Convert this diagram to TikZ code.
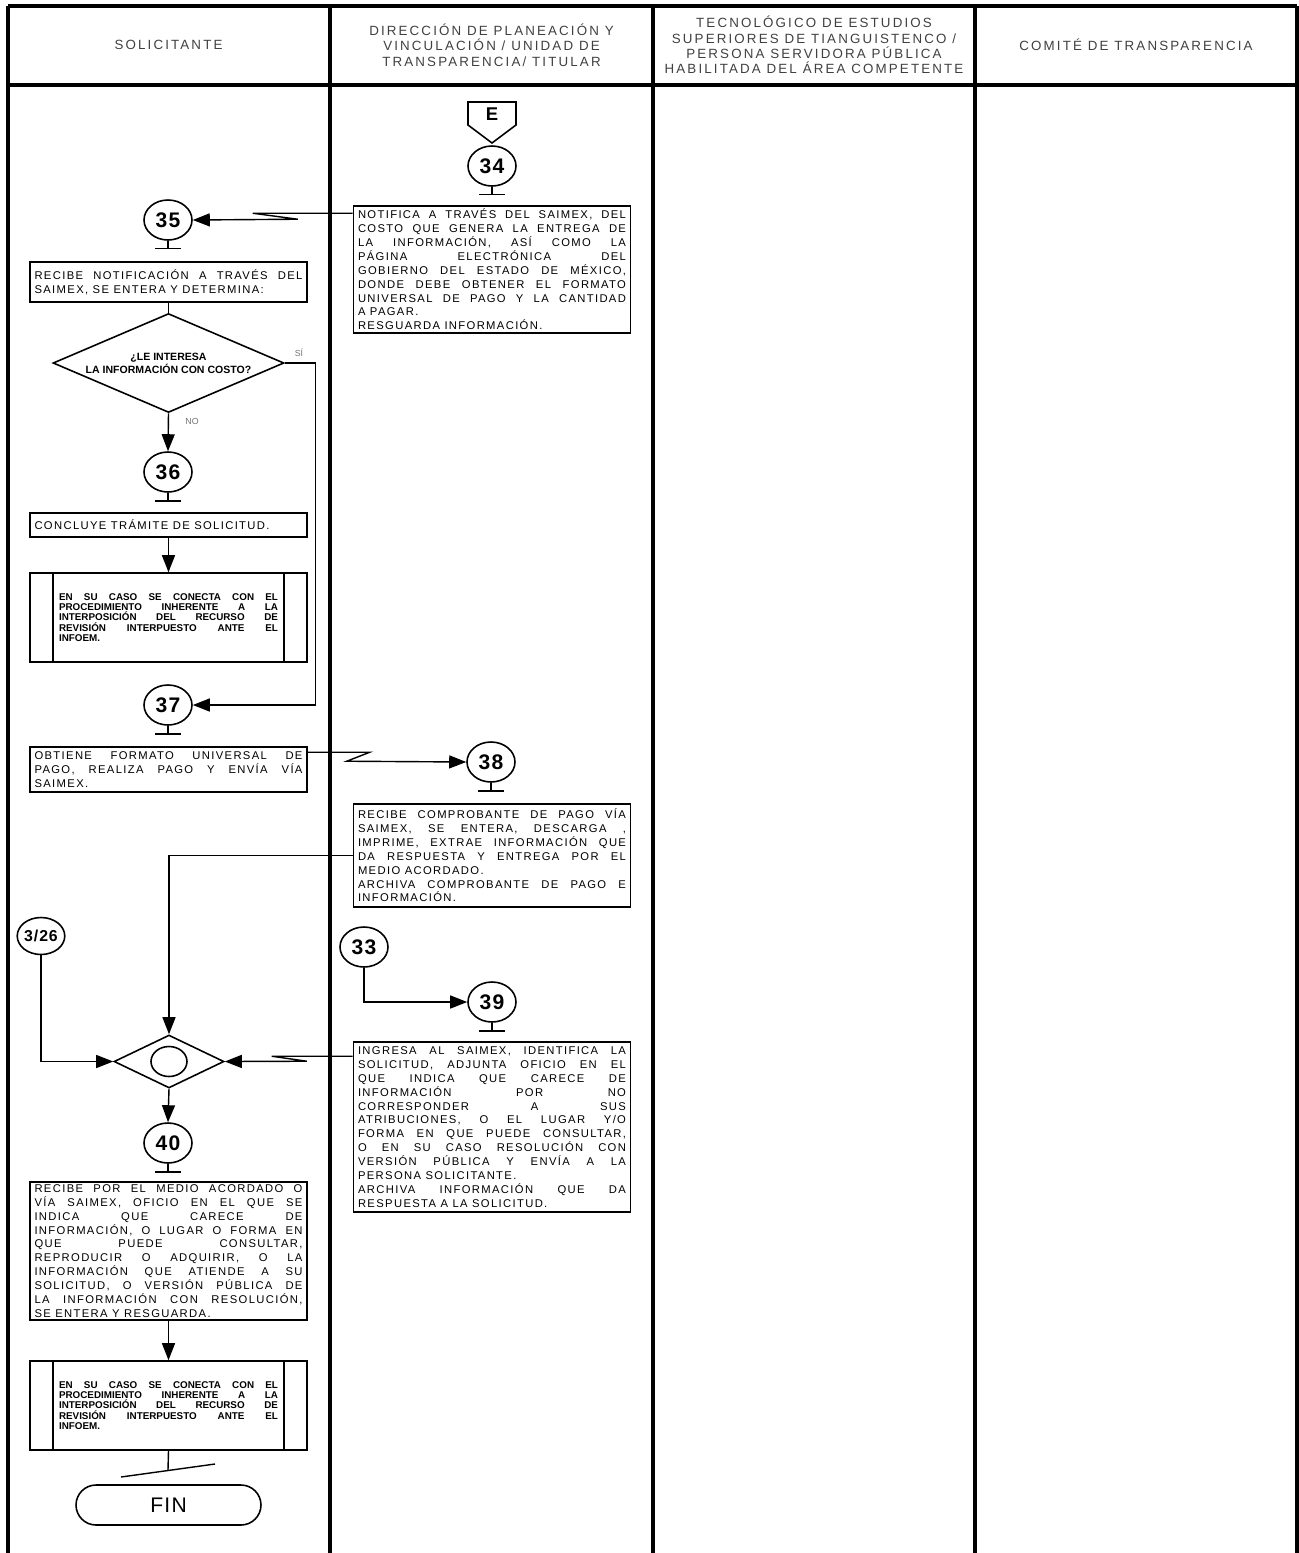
\documentclass[tikz,border=0pt]{standalone}
\usepackage{fontspec}
\setmainfont{Liberation Sans}
\newfontfamily\encabezado[LetterSpace=16]{Liberation Sans}
\newfontfamily\texto[LetterSpace=12]{Liberation Sans}
\newfontfamily\numero[LetterSpace=6]{Liberation Sans}
\usetikzlibrary{shapes.geometric,arrows.meta}

\begin{document}
\begin{tikzpicture}[x=0.02cm,y=-0.02cm,
  marco/.style={line width=1.8pt},
  linea/.style={line width=0.8pt},
  flecha/.style={line width=0.8pt,-{Triangle[length=0.34cm,width=0.26cm]}},
  cabecera/.style={align=center,text=black!75,font=\encabezado\fontsize{7.6}{8.7}\selectfont},
  caja/.style={draw,line width=0.9pt,text width=5.36cm,inner xsep=0.09cm,inner ysep=0pt,align=justify,font=\texto\fontsize{6.4}{7.9}\selectfont},
  predef/.style={draw,line width=0.9pt,minimum width=5.54cm,minimum height=1.78cm,text width=4.38cm,align=justify,font=\bfseries\fontsize{5.6}{5.8}\selectfont},
  paso/.style={ellipse,draw,line width=0.9pt,minimum width=0.96cm,minimum height=0.8cm,inner sep=0pt,font=\numero\bfseries\fontsize{12}{12}\selectfont},
  etiqueta/.style={text=black!55,font=\fontsize{5}{5}\selectfont}
]
\useasboundingbox (0,0) rectangle (1299,1553);

% Marco y carriles
\draw[marco] (8,6) -- (1297,6);
\draw[marco] (8,85) -- (1297,85);
\foreach \x in {8,330,653,975,1297} {
    \draw[marco] (\x,6) -- (\x,1553);
}

% Encabezados
\node[cabecera] (hSol) at (168.5,45) {SOLICITANTE};
\node[cabecera] (hDir) at (491.5,45) {DIRECCIÓN DE PLANEACIÓN Y\\VINCULACIÓN / UNIDAD DE\\TRANSPARENCIA/ TITULAR};
\node[cabecera] (hTec) at (814,45) {TECNOLÓGICO DE ESTUDIOS\\SUPERIORES DE TIANGUISTENCO /\\PERSONA SERVIDORA PÚBLICA\\HABILITADA DEL ÁREA COMPETENTE};
\node[cabecera] (hCom) at (1136,45) {COMITÉ DE TRANSPARENCIA};

% Conector E y paso 34
\draw[line width=0.9pt] (468,102) -- (516,102) -- (516,125) -- (492,143) -- (468,125) -- cycle;
\node[font=\bfseries\fontsize{10.5}{10.5}\selectfont] (conE) at (492,114) {E};
\node[paso] (p34) at (492,166) {34};
\node[caja,minimum height=2.54cm] (b34) at (492,269.5) {NOTIFICA A TRAVÉS DEL SAIMEX, DEL\linebreak COSTO QUE GENERA LA ENTREGA DE\linebreak LA INFORMACIÓN, ASÍ COMO LA\linebreak PÁGINA ELECTRÓNICA DEL\linebreak GOBIERNO DEL ESTADO DE MÉXICO,\linebreak DONDE DEBE OBTENER EL FORMATO\linebreak UNIVERSAL DE PAGO Y LA CANTIDAD\linebreak A PAGAR.\\RESGUARDA INFORMACIÓN.};

% Paso 35
\node[paso] (p35) at (168,220) {35};
\node[caja,minimum height=0.8cm] (b35) at (168.5,282) {RECIBE NOTIFICACIÓN A TRAVÉS DEL\linebreak SAIMEX, SE ENTERA Y DETERMINA:};
\node[diamond,aspect=2.33,draw,line width=0.9pt,minimum width=4.62cm,minimum height=1.98cm,inner sep=0pt,align=center,font=\bfseries\fontsize{6}{6.2}\selectfont] (d35) at (168.5,363) {¿LE INTERESA\\LA INFORMACIÓN CON COSTO?};
\node[etiqueta] (si) at (299,353) {SÍ};
\node[etiqueta] (no) at (192,421) {NO};

% Paso 36
\node[paso] (p36) at (168,472) {36};
\node[caja,minimum height=0.48cm] (b36) at (168.5,525) {CONCLUYE TRÁMITE DE SOLICITUD.};
\node[predef] (pp36) at (168.5,617.5) {EN SU CASO SE CONECTA CON EL\linebreak PROCEDIMIENTO INHERENTE A LA\linebreak INTERPOSICIÓN DEL RECURSO DE\linebreak REVISIÓN INTERPUESTO ANTE EL\linebreak INFOEM.};

% Paso 37
\node[paso] (p37) at (168,705) {37};
\node[caja,minimum height=0.9cm] (b37) at (168.5,769.5) {OBTIENE FORMATO UNIVERSAL DE\linebreak PAGO, REALIZA PAGO Y ENVÍA VÍA\linebreak SAIMEX.};

% Paso 38
\node[paso] (p38) at (491,762) {38};
\node[caja,minimum height=2.06cm] (b38) at (492,855.5) {RECIBE COMPROBANTE DE PAGO VÍA\linebreak SAIMEX, SE ENTERA, DESCARGA ,\linebreak IMPRIME, EXTRAE INFORMACIÓN QUE\linebreak DA RESPUESTA Y ENTREGA POR EL\linebreak MEDIO ACORDADO.\\ARCHIVA COMPROBANTE DE PAGO E\linebreak INFORMACIÓN.};

% Conectores 3/26 y 33, paso 39
\node[paso,minimum width=0.9cm,minimum height=0.74cm,font=\numero\bfseries\fontsize{9}{9}\selectfont] (c326) at (41,936) {3/26};
\node[paso] (p33) at (364,947) {33};
\node[paso] (p39) at (492,1002) {39};
\node[caja,minimum height=3.4cm] (b39) at (492,1127) {INGRESA AL SAIMEX, IDENTIFICA LA\linebreak SOLICITUD, ADJUNTA OFICIO EN EL\linebreak QUE INDICA QUE CARECE DE\linebreak INFORMACIÓN POR NO\linebreak CORRESPONDER A SUS\linebreak ATRIBUCIONES, O EL LUGAR Y/O\linebreak FORMA EN QUE PUEDE CONSULTAR,\linebreak O EN SU CASO RESOLUCIÓN CON\linebreak VERSIÓN PÚBLICA Y ENVÍA A LA\linebreak PERSONA SOLICITANTE.\\ARCHIVA INFORMACIÓN QUE DA\linebreak RESPUESTA A LA SOLICITUD.};

% Union
\node[diamond,draw,line width=0.9pt,minimum width=2.2cm,minimum height=1.06cm,inner sep=0pt] (m) at (169,1061.5) {};
\node[ellipse,draw,line width=0.9pt,minimum width=0.72cm,minimum height=0.6cm,inner sep=0pt] (mc) at (m) {};

% Paso 40
\node[paso] (p40) at (168,1143) {40};
\node[caja,minimum height=2.76cm] (b40) at (168.5,1251) {RECIBE POR EL MEDIO ACORDADO O\linebreak VÍA SAIMEX, OFICIO EN EL QUE SE\linebreak INDICA QUE CARECE DE\linebreak INFORMACIÓN, O LUGAR O FORMA EN\linebreak QUE PUEDE CONSULTAR,\linebreak REPRODUCIR O ADQUIRIR, O LA\linebreak INFORMACIÓN QUE ATIENDE A SU\linebreak SOLICITUD, O VERSIÓN PÚBLICA DE\linebreak LA INFORMACIÓN CON RESOLUCIÓN,\linebreak SE ENTERA Y RESGUARDA.};
\node[predef] (pp40) at (168.5,1405.5) {EN SU CASO SE CONECTA CON EL\linebreak PROCEDIMIENTO INHERENTE A LA\linebreak INTERPOSICIÓN DEL RECURSO DE\linebreak REVISIÓN INTERPUESTO ANTE EL\linebreak INFOEM.};
\node[draw,line width=0.9pt,rounded corners=0.4cm,minimum width=3.7cm,minimum height=0.8cm,font=\numero\fontsize{12}{12}\selectfont] (fin) at (168.5,1505) {FIN};

% Lineas interiores de los procesos predefinidos
\foreach \n in {pp36,pp40} {
    \draw[line width=0.9pt] ([xshift=0.48cm]\n.north west) -- ([xshift=0.48cm]\n.south west);
    \draw[line width=0.9pt] ([xshift=-0.48cm]\n.north east) -- ([xshift=-0.48cm]\n.south east);
}

% Remates bajo los pasos
\foreach \n in {p34,p35,p36,p37,p38,p39,p40} {
    \draw[linea] (\n.south) -- ++(0,8) ++(-13,0) -- ++(26,0);
}

% Conexiones
\draw[flecha] (b34.north west) ++(0,8) -- ++(-100,0) -- ++(45,6) -- (p35.east);
\draw[linea] (b35.south) -- (d35.north);
\draw[flecha] (d35.south) -- (p36.north);
\draw[flecha] (d35.east) -- ++(31,0) |- (p37.east);
\draw[flecha] (b36.south) -- (pp36.north);
\draw[flecha] (b37.north east) ++(0,6) -- ++(62,0) -- ++(-23,9) -- (p38.west);
\draw[flecha] (b38.west) -- (b38.west -| m.north) -- (m.north);
\draw[flecha] (c326.south) |- (m.west);
\draw[flecha] (p33.south) |- (p39.west);
\draw[flecha] (b39.north west) ++(0,15) -- ++(-81,0) -- ++(35,5) -- (m.east);
\draw[flecha] (m.south) -- (p40.north);
\draw[flecha] (b40.south) -- (pp40.north);

% Fin
\coordinate (corte) at (168,1470);
\draw[linea] (pp40.south) -- (corte);
\draw[linea] (121,1477) -- (215,1464);
\end{tikzpicture}
\end{document}
